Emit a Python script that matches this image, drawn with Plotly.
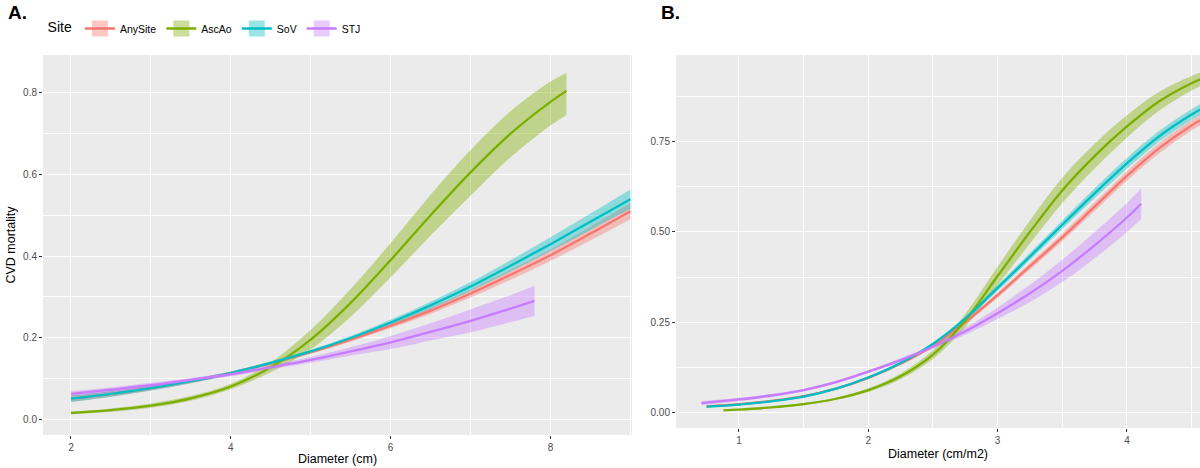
import plotly.graph_objects as go

# ---------------- data ----------------
SITES = ["AnySite", "AscAo", "SoV", "STJ"]
COLORS = {"AnySite": "#F8766D", "AscAo": "#7CAE00", "SoV": "#00BFC4", "STJ": "#C77CFF"}

# Panel A: Diameter (cm)
A_X_ANYSITE = [2, 2.5, 3, 3.5, 4, 4.5, 5, 5.5, 6, 6.5, 7, 7.5, 8, 8.5, 9]
A_FIT_ANYSITE = [0.050, 0.062, 0.076, 0.093, 0.113, 0.137, 0.164, 0.195, 0.229, 0.266, 0.308, 0.354, 0.402, 0.455, 0.510]
A_LO_ANYSITE = [0.042, 0.055, 0.070, 0.088, 0.109, 0.133, 0.160, 0.190, 0.223, 0.258, 0.298, 0.342, 0.388, 0.438, 0.490]
A_HI_ANYSITE = [0.058, 0.069, 0.082, 0.098, 0.117, 0.141, 0.168, 0.200, 0.235, 0.274, 0.318, 0.366, 0.416, 0.472, 0.530]

A_X_ASCAO = [2, 2.5, 3, 3.5, 4, 4.5, 5, 5.5, 6, 6.5, 7, 7.5, 8, 8.2]
A_FIT_ASCAO = [0.015, 0.022, 0.033, 0.051, 0.080, 0.127, 0.195, 0.285, 0.390, 0.500, 0.605, 0.700, 0.778, 0.805]
A_LO_ASCAO = [0.012, 0.018, 0.028, 0.045, 0.073, 0.115, 0.171, 0.251, 0.348, 0.450, 0.548, 0.642, 0.720, 0.746]
A_HI_ASCAO = [0.018, 0.026, 0.038, 0.057, 0.087, 0.139, 0.219, 0.319, 0.432, 0.550, 0.660, 0.755, 0.828, 0.849]

A_X_SOV = [2, 2.5, 3, 3.5, 4, 4.5, 5, 5.5, 6, 6.5, 7, 7.5, 8, 8.5, 9]
A_FIT_SOV = [0.050, 0.062, 0.076, 0.093, 0.113, 0.138, 0.166, 0.199, 0.237, 0.279, 0.325, 0.376, 0.429, 0.484, 0.539]
A_LO_SOV = [0.042, 0.055, 0.070, 0.088, 0.109, 0.134, 0.162, 0.194, 0.230, 0.270, 0.314, 0.362, 0.412, 0.464, 0.515]
A_HI_SOV = [0.058, 0.069, 0.082, 0.098, 0.117, 0.142, 0.170, 0.204, 0.244, 0.288, 0.336, 0.390, 0.446, 0.504, 0.563]

A_X_STJ = [2, 2.5, 3, 3.5, 4, 4.5, 5, 5.5, 6, 6.5, 7, 7.5, 7.8]
A_FIT_STJ = [0.062, 0.072, 0.083, 0.096, 0.110, 0.127, 0.145, 0.166, 0.188, 0.214, 0.241, 0.271, 0.290]
A_LO_STJ = [0.056, 0.066, 0.077, 0.091, 0.105, 0.122, 0.138, 0.156, 0.172, 0.193, 0.213, 0.238, 0.253]
A_HI_STJ = [0.068, 0.078, 0.089, 0.101, 0.115, 0.132, 0.152, 0.176, 0.204, 0.235, 0.269, 0.304, 0.327]

# Panel B: Diameter (cm/m2)
B_X_ANYSITE = [0.75, 1, 1.25, 1.5, 1.75, 2, 2.25, 2.5, 2.75, 3, 3.25, 3.5, 3.75, 4, 4.25, 4.5, 4.6]
B_FIT_ANYSITE = [0.017, 0.023, 0.032, 0.045, 0.066, 0.096, 0.135, 0.185, 0.250, 0.325, 0.405, 0.485, 0.570, 0.655, 0.732, 0.795, 0.815]
B_LO_ANYSITE = [0.015, 0.021, 0.030, 0.043, 0.063, 0.093, 0.132, 0.181, 0.245, 0.318, 0.396, 0.474, 0.558, 0.642, 0.718, 0.781, 0.801]
B_HI_ANYSITE = [0.019, 0.025, 0.034, 0.047, 0.069, 0.099, 0.138, 0.189, 0.255, 0.332, 0.414, 0.496, 0.582, 0.668, 0.746, 0.809, 0.829]

B_X_ASCAO = [0.88, 1, 1.25, 1.5, 1.75, 2, 2.25, 2.5, 2.75, 3, 3.25, 3.5, 3.75, 4, 4.25, 4.5, 4.6]
B_FIT_ASCAO = [0.006, 0.008, 0.014, 0.023, 0.038, 0.062, 0.100, 0.160, 0.255, 0.378, 0.500, 0.615, 0.710, 0.792, 0.862, 0.912, 0.927]
B_LO_ASCAO = [0.004, 0.006, 0.012, 0.020, 0.035, 0.057, 0.092, 0.148, 0.237, 0.352, 0.468, 0.580, 0.676, 0.761, 0.836, 0.892, 0.909]
B_HI_ASCAO = [0.008, 0.010, 0.016, 0.026, 0.041, 0.067, 0.108, 0.172, 0.273, 0.404, 0.532, 0.650, 0.744, 0.823, 0.888, 0.932, 0.945]

B_X_SOV = [0.75, 1, 1.25, 1.5, 1.75, 2, 2.25, 2.5, 2.75, 3, 3.25, 3.5, 3.75, 4, 4.25, 4.5, 4.6]
B_FIT_SOV = [0.016, 0.022, 0.031, 0.044, 0.066, 0.097, 0.137, 0.190, 0.260, 0.345, 0.432, 0.520, 0.607, 0.690, 0.765, 0.825, 0.845]
B_LO_SOV = [0.014, 0.020, 0.029, 0.041, 0.063, 0.094, 0.133, 0.186, 0.254, 0.337, 0.422, 0.508, 0.593, 0.675, 0.750, 0.810, 0.830]
B_HI_SOV = [0.018, 0.024, 0.033, 0.047, 0.069, 0.100, 0.141, 0.194, 0.266, 0.353, 0.442, 0.532, 0.621, 0.705, 0.780, 0.840, 0.860]

B_X_STJ = [0.71, 1, 1.25, 1.5, 1.75, 2, 2.25, 2.5, 2.75, 3, 3.25, 3.5, 3.75, 4, 4.11]
B_FIT_STJ = [0.026, 0.036, 0.047, 0.062, 0.084, 0.113, 0.145, 0.182, 0.225, 0.275, 0.330, 0.392, 0.463, 0.540, 0.578]
B_LO_STJ = [0.020, 0.031, 0.043, 0.058, 0.080, 0.109, 0.140, 0.176, 0.215, 0.259, 0.306, 0.361, 0.427, 0.500, 0.536]
B_HI_STJ = [0.032, 0.041, 0.051, 0.066, 0.088, 0.117, 0.150, 0.188, 0.235, 0.291, 0.354, 0.423, 0.499, 0.580, 0.620]

A_XTICKS = [2, 4, 6, 8]
A_YTICKS = [0.0, 0.2, 0.4, 0.6, 0.8]
B_XTICKS = [1, 2, 3, 4]
B_YTICKS = [0.0, 0.25, 0.50, 0.75]

PANEL_A = {
    "AnySite": (A_X_ANYSITE, A_FIT_ANYSITE, A_LO_ANYSITE, A_HI_ANYSITE),
    "AscAo": (A_X_ASCAO, A_FIT_ASCAO, A_LO_ASCAO, A_HI_ASCAO),
    "SoV": (A_X_SOV, A_FIT_SOV, A_LO_SOV, A_HI_SOV),
    "STJ": (A_X_STJ, A_FIT_STJ, A_LO_STJ, A_HI_STJ),
}
PANEL_B = {
    "AnySite": (B_X_ANYSITE, B_FIT_ANYSITE, B_LO_ANYSITE, B_HI_ANYSITE),
    "AscAo": (B_X_ASCAO, B_FIT_ASCAO, B_LO_ASCAO, B_HI_ASCAO),
    "SoV": (B_X_SOV, B_FIT_SOV, B_LO_SOV, B_HI_SOV),
    "STJ": (B_X_STJ, B_FIT_STJ, B_LO_STJ, B_HI_STJ),
}

FONT = "Liberation Sans, Arial, sans-serif"


def rgba(hex_color, a):
    h = hex_color.lstrip("#")
    r, g, b = int(h[0:2], 16), int(h[2:4], 16), int(h[4:6], 16)
    return f"rgba({r},{g},{b},{a})"


fig = go.Figure()

for panel, xa, ya in ((PANEL_A, "x", "y"), (PANEL_B, "x2", "y2")):
    # ribbons first
    for s in SITES:
        xs, fit, lo, hi = panel[s]
        fig.add_trace(go.Scatter(x=xs, y=lo, mode="lines", line=dict(width=0, shape="spline"),
                                 xaxis=xa, yaxis=ya, showlegend=False, hoverinfo="skip"))
        fig.add_trace(go.Scatter(x=xs, y=hi, mode="lines", line=dict(width=0, shape="spline"),
                                 fill="tonexty", fillcolor=rgba(COLORS[s], 0.4),
                                 xaxis=xa, yaxis=ya, showlegend=False, hoverinfo="skip"))
    # lines
    for s in SITES:
        xs, fit, lo, hi = panel[s]
        fig.add_trace(go.Scatter(x=xs, y=fit, mode="lines",
                                 line=dict(color=COLORS[s], width=2.3, shape="spline"),
                                 xaxis=xa, yaxis=ya, showlegend=False, name=s))

# legend entries
for s in SITES:
    fig.add_trace(go.Scatter(x=[None], y=[None], mode="lines+markers", name=s,
                             marker=dict(symbol="square", size=22, color=rgba(COLORS[s], 0.4)),
                             line=dict(color=COLORS[s], width=2.3),
                             xaxis="x", yaxis="y", showlegend=True))

axis_common = dict(
    showgrid=True, gridcolor="white", gridwidth=1.1, zeroline=False, showline=False,
    ticks="outside", ticklen=3, tickwidth=1.1, tickcolor="#333333",
    tickfont=dict(family=FONT, size=10, color="#4D4D4D"),
    title_font=dict(family=FONT, size=12.5, color="black"),
    automargin=False,
)

fig.update_layout(
    width=1200, height=468,
    margin=dict(l=0, r=0, t=0, b=0),
    paper_bgcolor="white", plot_bgcolor="#EBEBEB",
    font=dict(family=FONT),
    xaxis=dict(domain=[43 / 1200, 632 / 1200], range=[1.65, 9.02], tickvals=A_XTICKS,
               minor=dict(dtick=1, tick0=0, showgrid=True, gridcolor="white", gridwidth=0.5, ticks=""),
               title=dict(text="Diameter (cm)", standoff=2), anchor="y", **axis_common),
    yaxis=dict(domain=[33 / 468, 413 / 468], range=[-0.039, 0.893], tickvals=A_YTICKS, tickformat=".1f",
               minor=dict(dtick=0.1, tick0=0, showgrid=True, gridcolor="white", gridwidth=0.5, ticks=""),
               title=dict(text="CVD mortality", standoff=4), anchor="x", **axis_common),
    xaxis2=dict(domain=[676 / 1200, 1.0], range=[0.513, 4.565], tickvals=B_XTICKS,
                minor=dict(dtick=0.5, tick0=0, showgrid=True, gridcolor="white", gridwidth=0.5, ticks=""),
                title=dict(text="Diameter (cm/m2)", standoff=4), anchor="y2", **axis_common),
    yaxis2=dict(domain=[40 / 468, 413 / 468], range=[-0.043, 0.99], tickvals=B_YTICKS, tickformat=".2f",
                minor=dict(dtick=0.125, tick0=0, showgrid=True, gridcolor="white", gridwidth=0.5, ticks=""),
                anchor="x2", **axis_common),
    legend=dict(orientation="h", x=0.038, y=1 - 14 / 468, xanchor="left", yanchor="top",
                traceorder="normal",
                title=dict(text="Site", font=dict(family=FONT, size=14, color="black")),
                font=dict(family=FONT, size=10.5, color="black"),
                itemsizing="trace", bgcolor="rgba(0,0,0,0)", tracegroupgap=0),
    showlegend=True,
    annotations=[
        dict(text="<b>A.</b>", x=0.005, y=1.0, xref="paper", yref="paper", xanchor="left", yanchor="top",
             showarrow=False, font=dict(family=FONT, size=19, color="black")),
        dict(text="<b>B.</b>", x=659 / 1200, y=1.0, xref="paper", yref="paper", xanchor="left", yanchor="top",
             showarrow=False, font=dict(family=FONT, size=19, color="black")),
    ],
)

fig.write_html("out.html")
